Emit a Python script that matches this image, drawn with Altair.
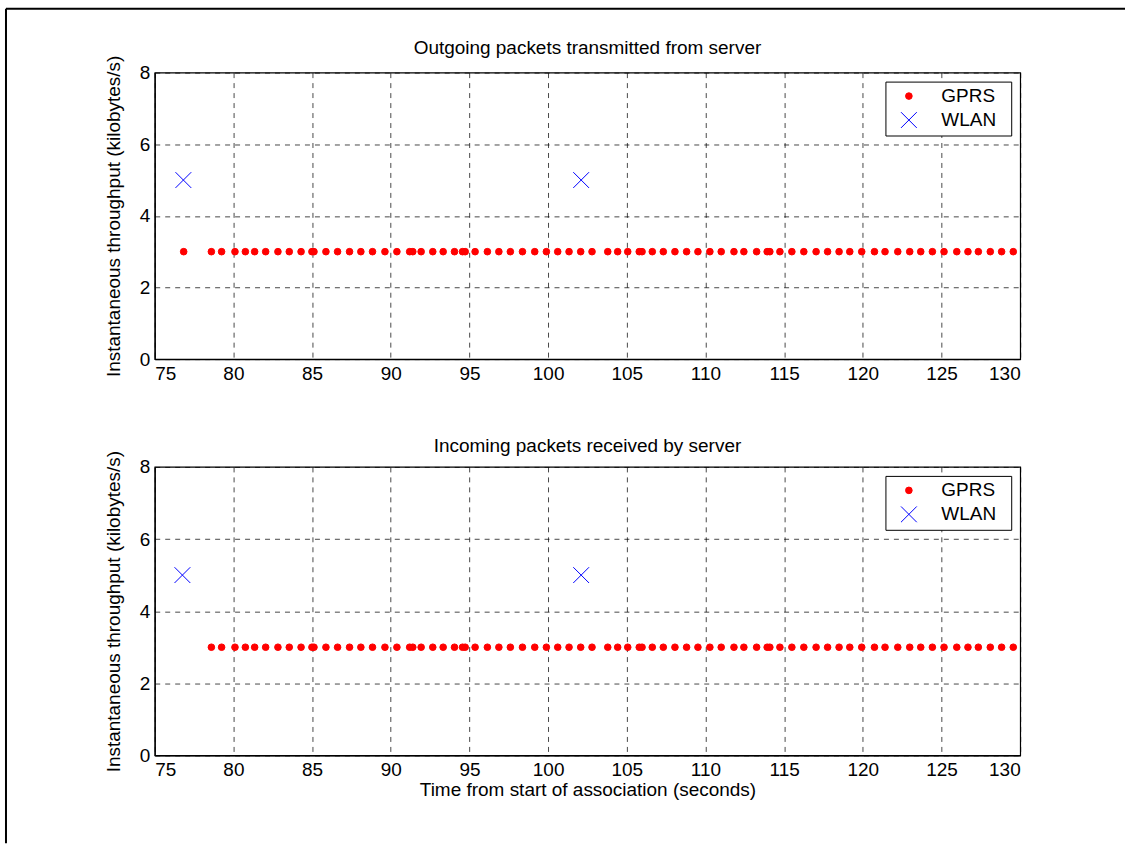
import altair as alt
import pandas as pd

# ---- data ----
gprs_out_x = [76.84, 78.6, 79.25, 80.1, 80.76, 81.35, 82.05, 82.83, 83.55, 84.3, 84.99, 85.12,
              85.88, 86.62, 87.38, 88.1, 88.84, 89.63, 90.39, 91.2, 91.4, 91.93, 92.67, 93.33,
              94.05, 94.56, 94.73, 95.36, 96.14, 96.87, 97.6, 98.37, 99.15, 99.89, 100.61,
              101.33, 102.07, 102.79, 103.79, 104.42, 105.06, 105.79, 105.97, 106.62, 107.32,
              108.06, 108.8, 109.52, 110.28, 111.0, 111.81, 112.44, 113.25, 113.92, 114.09,
              114.73, 115.49, 116.25, 117.03, 117.76, 118.49, 119.17, 119.93, 120.74, 121.41,
              122.22, 122.98, 123.68, 124.42, 125.16, 125.97, 126.68, 127.34, 128.1, 128.82,
              129.56]
gprs_out_y = [3.0] * len(gprs_out_x)

gprs_in_x = gprs_out_x[1:]
gprs_in_y = [3.0] * len(gprs_in_x)

wlan_out_x = [76.82, 102.1]
wlan_out_y = [5.0, 5.0]
wlan_in_x = [76.76, 102.1]
wlan_in_y = [5.0, 5.0]

series_names = ["GPRS", "WLAN"]
x_ticks = [75, 80, 85, 90, 95, 100, 105, 110, 115, 120, 125, 130]
y_ticks = [0, 2, 4, 6, 8]

title_out = "Outgoing packets transmitted from server"
title_in = "Incoming packets received by server"
y_label = "Instantaneous throughput (kilobytes/s)"
x_label = "Time from start of association (seconds)"

FONT = "Liberation Sans"
FS = 19
X_PATH = "M-1,-1L1,1M-1,1L1,-1"


def make_df(gx, gy, wx, wy):
    rows = [{"x": a, "y": b, "series": "GPRS"} for a, b in zip(gx, gy)]
    rows += [{"x": a, "y": b, "series": "WLAN"} for a, b in zip(wx, wy)]
    return pd.DataFrame(rows)


def leg():
    # invisible title on the right only widens the box (right-hand margin)
    return alt.Legend(title=".", titleOrient="right", titleOpacity=0, titlePadding=4,
                      titleFontSize=FS)


def points(df, show_xtitle):
    return alt.Chart(df).mark_point(
        filled=False, strokeWidth=1, opacity=1
    ).encode(
        x=alt.X("x:Q", scale=alt.Scale(domain=[75, 130], nice=False, zero=False),
                axis=alt.Axis(values=x_ticks, title=x_label if show_xtitle else None,
                              format="d")),
        y=alt.Y("y:Q", scale=alt.Scale(domain=[0, 8], nice=False),
                axis=alt.Axis(values=y_ticks, title=y_label, format="d")),
        color=alt.Color("series:N", legend=leg(),
                        scale=alt.Scale(domain=series_names, range=["#ff0000", "#0000ff"])),
        fill=alt.Fill("series:N", legend=leg(),
                      scale=alt.Scale(domain=series_names, range=["#ff0000", "transparent"])),
        shape=alt.Shape("series:N", legend=leg(),
                        scale=alt.Scale(domain=series_names, range=["circle", X_PATH])),
        size=alt.Size("series:N", legend=leg(),
                      scale=alt.Scale(domain=series_names, range=[44, 250])),
    )


def ttl(text, off):
    return alt.TitleParams(text, fontSize=FS, font=FONT, fontWeight="normal",
                           offset=off, color="black", frame="group", anchor="middle")


# figure frame (cropped border of the exported figure): left and top edges only
frame_df = pd.DataFrame({"k": [0]})
frame_left = alt.Chart(frame_df).mark_rule(color="black", strokeWidth=2).encode(
    x=alt.value(-149), y=alt.value(-64), y2=alt.value(772)
)
frame_top = alt.Chart(frame_df).mark_rule(color="black", strokeWidth=2).encode(
    x=alt.value(-149), x2=alt.value(972), y=alt.value(-64)
)

top = alt.layer(
    points(make_df(gprs_out_x, gprs_out_y, wlan_out_x, wlan_out_y), False),
    frame_left, frame_top,
    title=ttl(title_out, -50)
).properties(width=867, height=287)

bottom = points(make_df(gprs_in_x, gprs_in_y, wlan_in_x, wlan_in_y), True).properties(
    width=867, height=289, title=ttl(title_in, -6)
)

chart = alt.vconcat(top, bottom, spacing=108, bounds="flush", background="white").resolve_legend(
    color="independent", fill="independent", shape="independent", size="independent"
).properties(
    padding={"left": 4, "top": 6, "right": 0, "bottom": 0}
).configure_view(
    stroke="black", strokeWidth=1.2
).configure_axis(
    labelFont=FONT, titleFont=FONT, labelFontSize=FS, titleFontSize=FS,
    titleFontWeight="normal", labelColor="black", titleColor="black",
    domainColor="black", domainWidth=1.2, ticks=False, labelPadding=5,
    gridColor="black", gridDash=[5, 5], gridWidth=0.8, gridOpacity=0.9,
).configure_axisY(
    titlePadding=16
).configure_axisX(
    titlePadding=1
).configure_legend(
    orient="top-right", offset=9, strokeColor="black", fillColor="white",
    padding=5, labelFont=FONT, labelFontSize=FS, labelColor="black",
    symbolOffset=9, labelOffset=23, rowPadding=3, symbolStrokeWidth=1,
    cornerRadius=0
)

chart.save("out.html", embed_options={"renderer": "svg", "actions": False})
